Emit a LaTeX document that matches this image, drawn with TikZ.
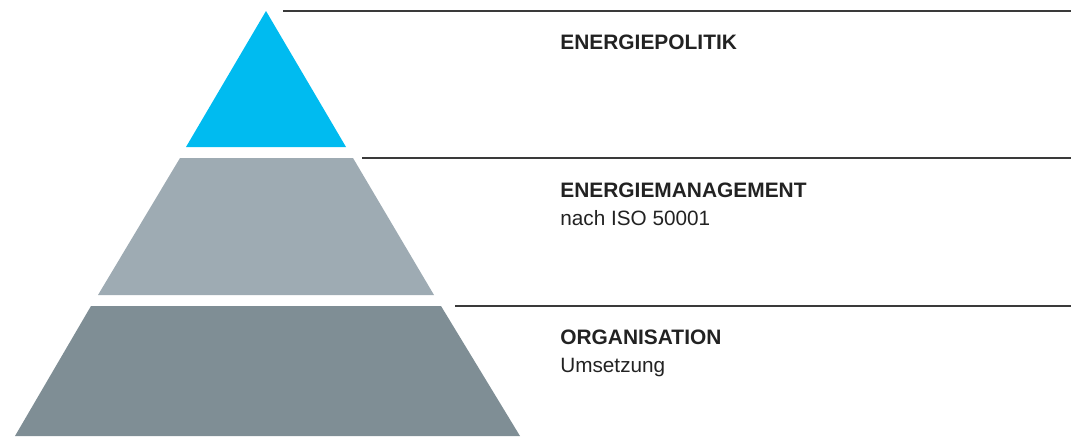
\documentclass[tikz,border=0pt]{standalone}
\usepackage{fontspec}
\setmainfont{Liberation Sans}
\usepackage{xcolor}
\usetikzlibrary{positioning}

\definecolor{topblue}{HTML}{00BBF0}
\definecolor{midgray}{HTML}{9EABB3}
\definecolor{lowgray}{HTML}{7F8E95}
\definecolor{rulegray}{HTML}{3A3A3A}
\definecolor{txtdark}{HTML}{222222}

\begin{document}
\begin{tikzpicture}[x=0.02cm,y=-0.02cm,
		layer/.style={draw=none},
		rule/.style={rulegray,line width=1.4pt*0.567},
		head/.style={anchor=base west,inner sep=0pt,text=txtdark,font=\fontsize{11.9}{13}\selectfont\bfseries},
		sub/.style={anchor=base west,inner sep=0pt,text=txtdark,font=\fontsize{11.8}{13}\selectfont}]
		\useasboundingbox (0,0) rectangle (1078,436);
		% pyramid
		\fill [topblue] (266,11) -- (346,147) -- (186,147) -- cycle;
		\fill [midgray] (180,158) -- (353,158) -- (434,295) -- (98,295) -- cycle;
		\fill [lowgray] (91,306) -- (441,306) -- (520,436) -- (15,436) -- cycle;
		% rules
		\coordinate (r1a) at (283,11);  \coordinate (r1b) at (1071,11);
		\coordinate (r2a) at (362,158); \coordinate (r2b) at (1071,158);
		\coordinate (r3a) at (455,306); \coordinate (r3b) at (1071,306);
		\draw [rule] (r1a) -- (r1b);
		\draw [rule] (r2a) -- (r2b);
		\draw [rule] (r3a) -- (r3b);
		% labels
		\node [head] (politik) at (560,50) {ENERGIEPOLITIK};
		\node [head] (mgmt) at (560,197) {ENERGIEMANAGEMENT};
		\node [sub] (iso) at (560,225) {nach ISO 50001};
		\node [head] (orga) at (560,344) {ORGANISATION};
		\node [sub] (umsetz) at (560,372) {Umsetzung};
	\end{tikzpicture}
\end{document}
